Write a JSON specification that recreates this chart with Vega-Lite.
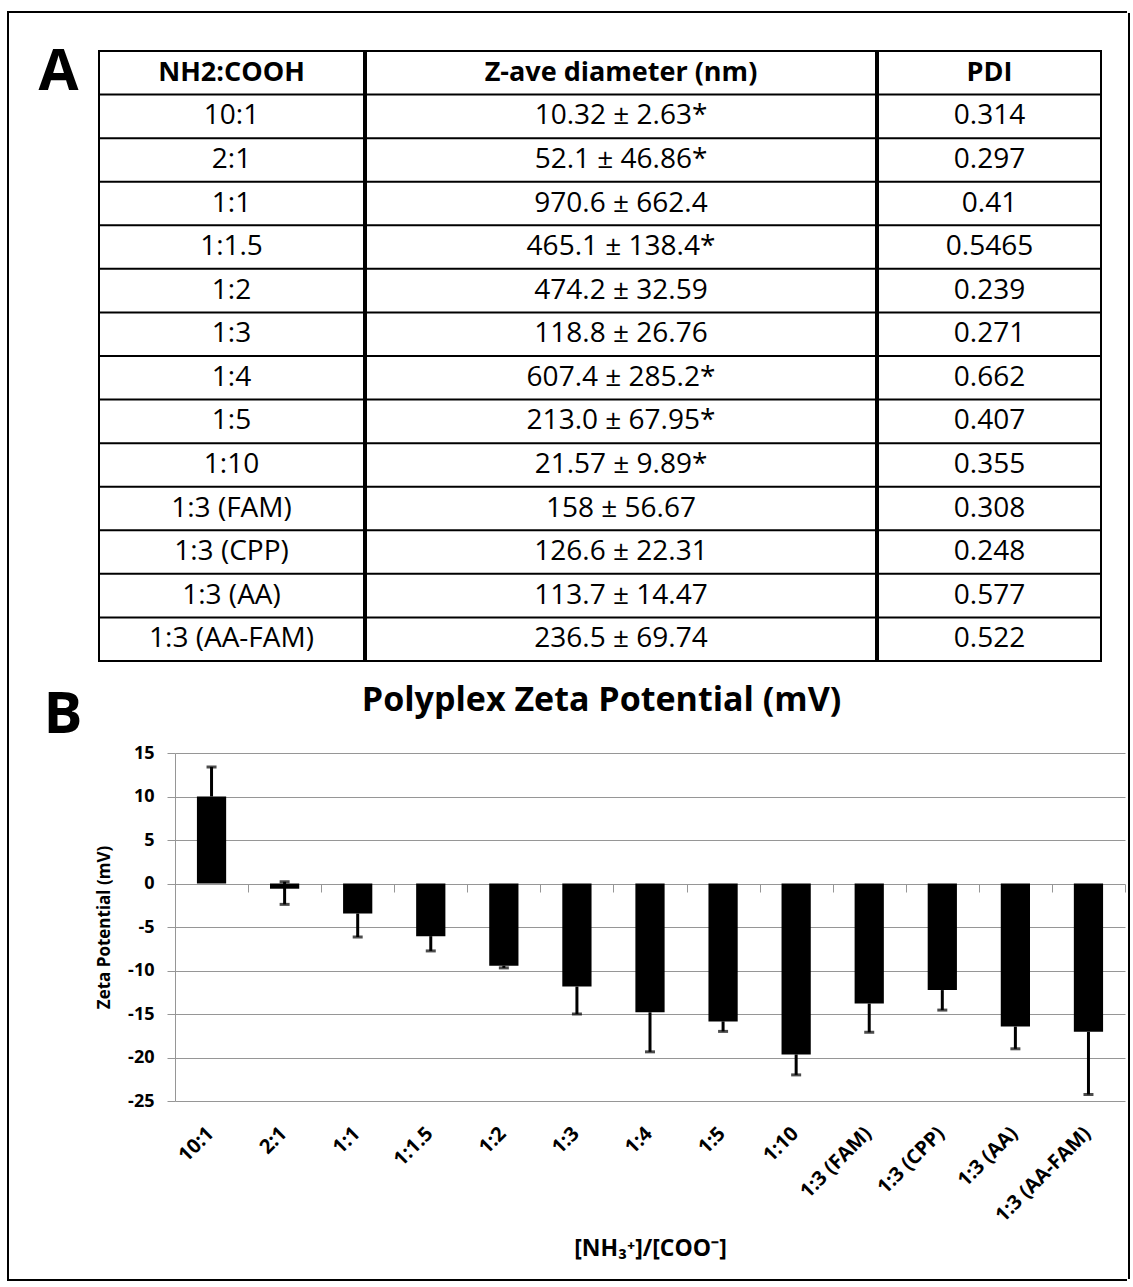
{
  "$schema": "https://vega.github.io/schema/vega-lite/v6.json",
  "padding": {"left": 7, "top": 11, "right": 4, "bottom": 4},
  "background": "white",
  "config": {"font": "Open Sans", "view": {"stroke": null}},
  "datasets": {
    "one": [{"k": 1}],
    "polyplex": [
      {"ratio": "10:1", "diameter": "10.32 ± 2.63*", "pdi": "0.314", "zeta": 10.0, "err_lo": 10.0, "err_hi": 13.4},
      {"ratio": "2:1", "diameter": "52.1 ± 46.86*", "pdi": "0.297", "zeta": -0.6, "err_lo": -2.4, "err_hi": 0.2},
      {"ratio": "1:1", "diameter": "970.6 ± 662.4", "pdi": "0.41", "zeta": -3.45, "err_lo": -6.15, "err_hi": -3.45},
      {"ratio": "1:1.5", "diameter": "465.1 ± 138.4*", "pdi": "0.5465", "zeta": -6.05, "err_lo": -7.75, "err_hi": -6.05},
      {"ratio": "1:2", "diameter": "474.2 ± 32.59", "pdi": "0.239", "zeta": -9.45, "err_lo": -9.7, "err_hi": -9.45},
      {"ratio": "1:3", "diameter": "118.8 ± 26.76", "pdi": "0.271", "zeta": -11.85, "err_lo": -15.0, "err_hi": -11.85},
      {"ratio": "1:4", "diameter": "607.4 ± 285.2*", "pdi": "0.662", "zeta": -14.8, "err_lo": -19.35, "err_hi": -14.8},
      {"ratio": "1:5", "diameter": "213.0 ± 67.95*", "pdi": "0.407", "zeta": -15.85, "err_lo": -17.0, "err_hi": -15.85},
      {"ratio": "1:10", "diameter": "21.57 ± 9.89*", "pdi": "0.355", "zeta": -19.65, "err_lo": -22.0, "err_hi": -19.65},
      {"ratio": "1:3 (FAM)", "diameter": "158 ± 56.67", "pdi": "0.308", "zeta": -13.8, "err_lo": -17.1, "err_hi": -13.8},
      {"ratio": "1:3 (CPP)", "diameter": "126.6 ± 22.31", "pdi": "0.248", "zeta": -12.25, "err_lo": -14.55, "err_hi": -12.25},
      {"ratio": "1:3 (AA)", "diameter": "113.7 ± 14.47", "pdi": "0.577", "zeta": -16.45, "err_lo": -19.0, "err_hi": -16.45},
      {"ratio": "1:3 (AA-FAM)", "diameter": "236.5 ± 69.74", "pdi": "0.522", "zeta": -17.05, "err_lo": -24.25, "err_hi": -17.05}
    ]
  },
  "spacing": 0,
  "vconcat": [
    {"data": {"name": "one"}, "width": 1120, "height": 2, "mark": {"type": "rect", "color": "black"}, "encoding": {}},
    {
      "spacing": 28,
      "hconcat": [
        {"data": {"name": "one"}, "width": 2, "height": 1266, "mark": {"type": "rect", "color": "black"}, "encoding": {}},
        {
          "spacing": 2,
          "hconcat": [
            {
              "spacing": 22,
              "vconcat": [
                {"data": {"name": "one"}, "width": 1, "height": 9, "mark": {"type": "rect", "opacity": 0}, "encoding": {}},
                {
                  "spacing": 17,
                  "hconcat": [
                    {"data": {"name": "one"}, "width": 43, "height": 44, "mark": {"type": "text", "text": "A", "fontSize": 58, "fontWeight": "bold", "color": "black"}, "encoding": {}},
                    {
                      "spacing": -2,
                      "hconcat": [
                        {
                          "width": 265, "height": 610,
                          "view": {"stroke": "black", "strokeWidth": 2},
                          "layer": [
                            {"data": {"name": "polyplex"}, "mark": {"type": "rule", "color": "black", "strokeWidth": 2},
                             "encoding": {"y": {"field": "ratio", "type": "nominal", "bandPosition": 0, "axis": null,
                               "scale": {"type": "band", "paddingInner": 0, "paddingOuter": 0, "domain": ["header", "10:1", "2:1", "1:1", "1:1.5", "1:2", "1:3", "1:4", "1:5", "1:10", "1:3 (FAM)", "1:3 (CPP)", "1:3 (AA)", "1:3 (AA-FAM)"]}}}},
                            {"data": {"name": "polyplex"}, "mark": {"type": "text", "fontSize": 28, "color": "black"},
                             "encoding": {"y": {"field": "ratio", "type": "nominal", "axis": null}, "text": {"field": "ratio", "type": "nominal"}}},
                            {"data": {"name": "one"}, "mark": {"type": "text", "fontSize": 27, "fontWeight": "bold", "color": "black", "text": "NH2:COOH"},
                             "encoding": {"y": {"datum": "header", "type": "nominal", "axis": null}}}
                          ]
                        },
                        {
                          "width": 510, "height": 610,
                          "view": {"stroke": "black", "strokeWidth": 2},
                          "layer": [
                            {"data": {"name": "polyplex"}, "mark": {"type": "rule", "color": "black", "strokeWidth": 2},
                             "encoding": {"y": {"field": "ratio", "type": "nominal", "bandPosition": 0, "axis": null,
                               "scale": {"type": "band", "paddingInner": 0, "paddingOuter": 0, "domain": ["header", "10:1", "2:1", "1:1", "1:1.5", "1:2", "1:3", "1:4", "1:5", "1:10", "1:3 (FAM)", "1:3 (CPP)", "1:3 (AA)", "1:3 (AA-FAM)"]}}}},
                            {"data": {"name": "polyplex"}, "mark": {"type": "text", "fontSize": 28, "color": "black"},
                             "encoding": {"y": {"field": "ratio", "type": "nominal", "axis": null}, "text": {"field": "diameter", "type": "nominal"}}},
                            {"data": {"name": "one"}, "mark": {"type": "text", "fontSize": 27, "fontWeight": "bold", "color": "black", "text": "Z-ave diameter (nm)"},
                             "encoding": {"y": {"datum": "header", "type": "nominal", "axis": null}}}
                          ]
                        },
                        {
                          "width": 223, "height": 610,
                          "view": {"stroke": "black", "strokeWidth": 2},
                          "layer": [
                            {"data": {"name": "polyplex"}, "mark": {"type": "rule", "color": "black", "strokeWidth": 2},
                             "encoding": {"y": {"field": "ratio", "type": "nominal", "bandPosition": 0, "axis": null,
                               "scale": {"type": "band", "paddingInner": 0, "paddingOuter": 0, "domain": ["header", "10:1", "2:1", "1:1", "1:1.5", "1:2", "1:3", "1:4", "1:5", "1:10", "1:3 (FAM)", "1:3 (CPP)", "1:3 (AA)", "1:3 (AA-FAM)"]}}}},
                            {"data": {"name": "polyplex"}, "mark": {"type": "text", "fontSize": 28, "color": "black"},
                             "encoding": {"y": {"field": "ratio", "type": "nominal", "axis": null}, "text": {"field": "pdi", "type": "nominal"}}},
                            {"data": {"name": "one"}, "mark": {"type": "text", "fontSize": 27, "fontWeight": "bold", "color": "black", "text": "PDI"},
                             "encoding": {"y": {"datum": "header", "type": "nominal", "axis": null}}}
                          ]
                        }
                      ]
                    }
                  ]
                },
                {
                  "spacing": 6,
                  "hconcat": [
                    {"data": {"name": "one"}, "width": 52, "height": 1,
                     "title": {"text": "B", "fontSize": 58, "fontWeight": "bold", "font": "Open Sans", "color": "black", "offset": 8, "anchor": "middle"},
                     "mark": {"type": "rect", "opacity": 0}, "encoding": {}},
                    {
                      "width": 950, "height": 348,
                      "data": {"name": "polyplex"},
                      "title": {"text": "Polyplex Zeta Potential (mV)", "fontSize": 34, "fontWeight": "bold", "font": "Open Sans", "color": "black", "offset": 26, "frame": "bounds", "anchor": "middle", "dx": -9},
                      "resolve": {"scale": {"x": "independent"}, "axis": {"x": "independent"}},
                      "layer": [
                        {
                          "mark": {"type": "bar", "color": "black"},
                          "encoding": {
                            "x": {"field": "ratio", "type": "nominal",
                              "scale": {"type": "band", "paddingInner": 0.6, "paddingOuter": 0.3, "domain": ["10:1", "2:1", "1:1", "1:1.5", "1:2", "1:3", "1:4", "1:5", "1:10", "1:3 (FAM)", "1:3 (CPP)", "1:3 (AA)", "1:3 (AA-FAM)"]},
                              "axis": {"orient": "bottom", "title": "[NH₃⁺]/[COO⁻]", "labelAngle": -45, "labelFontSize": 20, "labelFontWeight": "bold", "labelColor": "black", "labelPadding": 22, "labelOffset": -8, "ticks": false, "tickSize": 0, "domain": false, "titleFontSize": 23, "titleFontWeight": "bold", "titleColor": "black", "titlePadding": 12}},
                            "y": {"field": "zeta", "type": "quantitative",
                              "scale": {"domain": [-25, 15], "nice": false},
                              "axis": {"values": [-25, -20, -15, -10, -5, 0, 5, 10, 15], "title": "Zeta Potential (mV)", "grid": true, "gridColor": "#969696", "domainColor": "#969696", "tickColor": "#969696", "tickSize": 8, "labelPadding": 13, "labelFontSize": 18, "labelFontWeight": "bold", "labelColor": "black", "labelExpr": "'' + datum.value", "titleFontSize": 17, "titleFontWeight": "bold", "titleColor": "black", "titlePadding": 14}}
                          }
                        },
                        {
                          "mark": {"type": "rule", "color": "black", "strokeWidth": 3},
                          "encoding": {
                            "x": {"field": "ratio", "type": "nominal",
                              "scale": {"type": "band", "paddingInner": 0, "paddingOuter": 0, "domain": ["10:1", "2:1", "1:1", "1:1.5", "1:2", "1:3", "1:4", "1:5", "1:10", "1:3 (FAM)", "1:3 (CPP)", "1:3 (AA)", "1:3 (AA-FAM)"]},
                              "axis": {"orient": "top", "offset": -131, "labels": false, "domain": false, "tickBand": "extent", "tickSize": -8, "tickWidth": 1, "tickColor": "#969696", "title": null}},
                            "y": {"field": "err_lo", "type": "quantitative"},
                            "y2": {"field": "err_hi"}
                          }
                        },
                        {
                          "transform": [{"fold": ["err_lo", "err_hi"], "as": ["end", "v"]}, {"filter": "datum.v != datum.zeta"}],
                          "mark": {"type": "tick", "color": "black", "thickness": 3, "size": 10},
                          "encoding": {
                            "x": {"field": "ratio", "type": "nominal", "axis": null,
                              "scale": {"type": "band", "paddingInner": 0, "paddingOuter": 0, "domain": ["10:1", "2:1", "1:1", "1:1.5", "1:2", "1:3", "1:4", "1:5", "1:10", "1:3 (FAM)", "1:3 (CPP)", "1:3 (AA)", "1:3 (AA-FAM)"]}},
                            "y": {"field": "v", "type": "quantitative"}
                          }
                        }
                      ]
                    }
                  ]
                }
              ]
            },
            {"data": {"name": "one"}, "width": 2, "height": 1266, "mark": {"type": "rect", "color": "black"}, "encoding": {}}
          ]
        }
      ]
    },
    {"data": {"name": "one"}, "width": 1120, "height": 2, "mark": {"type": "rect", "color": "black"}, "encoding": {}}
  ]
}
